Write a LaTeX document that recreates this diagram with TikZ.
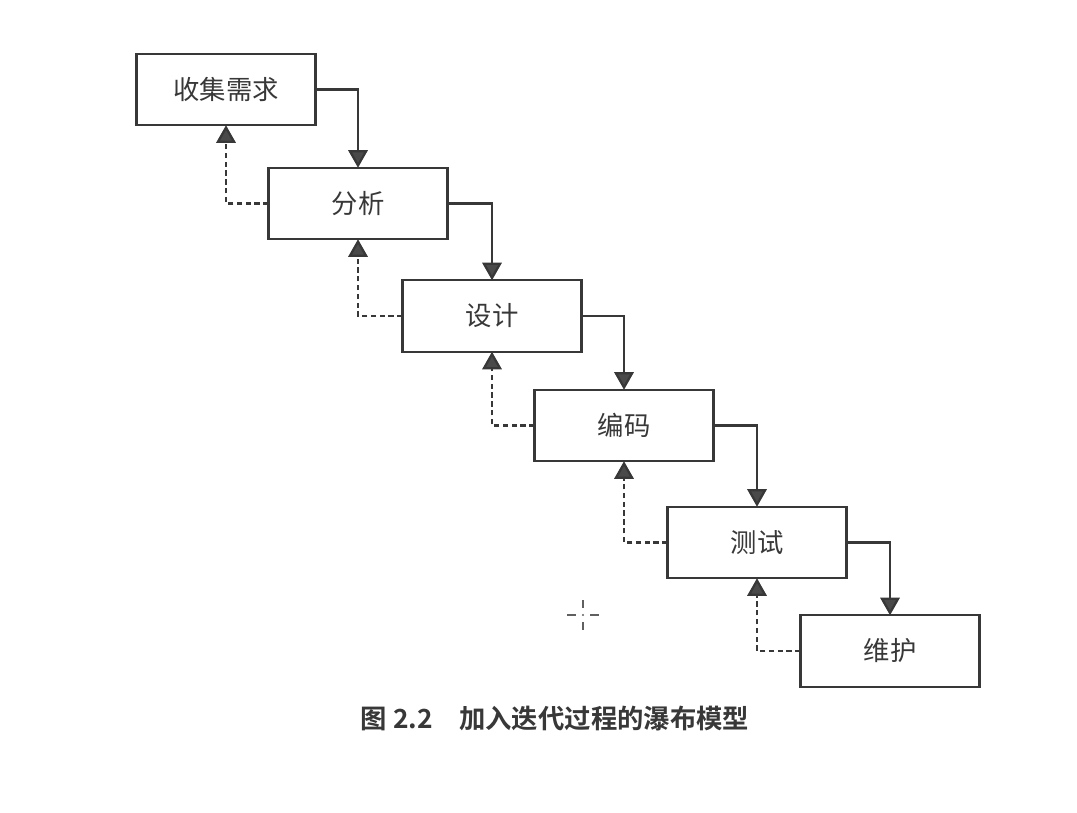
\documentclass[tikz,border=0pt]{standalone}
\usepackage{fontspec}
\newfontfamily\cjk{Noto Sans CJK SC}
\newfontfamily\cjkbold{Noto Sans CJK SC Bold}
\usetikzlibrary{arrows.meta}
\definecolor{ink}{HTML}{383838}
\definecolor{tip}{HTML}{4A4A4A}
\begin{document}
\begin{tikzpicture}[x=0.02cm,y=-0.02cm,
  phase/.style={draw=ink,line width=1.3pt,rectangle,inner sep=0pt,outer sep=0pt,
    minimum width=3.58cm,minimum height=1.43cm,font=\cjk\fontsize{15}{17}\selectfont,text=ink},
  flow/.style={draw=ink,line width=1.3pt,-{Triangle[width=11pt,length=10pt,fill=tip]}},
  back/.style={draw=ink,line width=1.3pt,dash pattern=on 3pt off 2pt,-{Triangle[width=11pt,length=10pt,fill=tip]}},
  crossline/.style={draw=ink!80,line width=1pt}]
  \useasboundingbox (0,0) rectangle (1077,812);
  \fill[white] (0,0) rectangle (1077,812);

  % waterfall phases
  \node[phase] (req)  at (226,89.5)  {收集需求};
  \node[phase] (ana)  at (358,203.5) {分析};
  \node[phase] (des)  at (492,316)   {设计};
  \node[phase] (code) at (624,425.5) {编码};
  \node[phase] (test) at (757,542.5) {测试};
  \node[phase] (mnt)  at (890,651)   {维护};

  % forward flow
  \draw[flow] (req.east)  -| (ana.north);
  \draw[flow] (ana.east)  -| (des.north);
  \draw[flow] (des.east)  -| (code.north);
  \draw[flow] (code.east) -| (test.north);
  \draw[flow] (test.east) -| (mnt.north);

  % iteration feedback
  \draw[back] (ana.west)  -| (req.south);
  \draw[back] (des.west)  -| (ana.south);
  \draw[back] (code.west) -| (des.south);
  \draw[back] (test.west) -| (code.south);
  \draw[back] (mnt.west)  -| (test.south);

  % caption
  \node[font=\cjkbold\fontsize{15}{17}\selectfont,text=ink,anchor=center] (cap) at (555,719)
    {图 2.2\hspace{1em}加入迭代过程的瀑布模型};

  % small cross mark
  \coordinate (cm) at (583,615);
  \draw[crossline] ([xshift=-16*0.02cm]cm) -- ([xshift=-7*0.02cm]cm);
  \draw[crossline] ([xshift=7*0.02cm]cm) -- ([xshift=16*0.02cm]cm);
  \draw[crossline] ([yshift=15*0.02cm]cm) -- ([yshift=7*0.02cm]cm);
  \draw[crossline] ([yshift=-7*0.02cm]cm) -- ([yshift=-15*0.02cm]cm);
  \fill[ink!80] (cm) circle (0.6pt);
\end{tikzpicture}
\end{document}
